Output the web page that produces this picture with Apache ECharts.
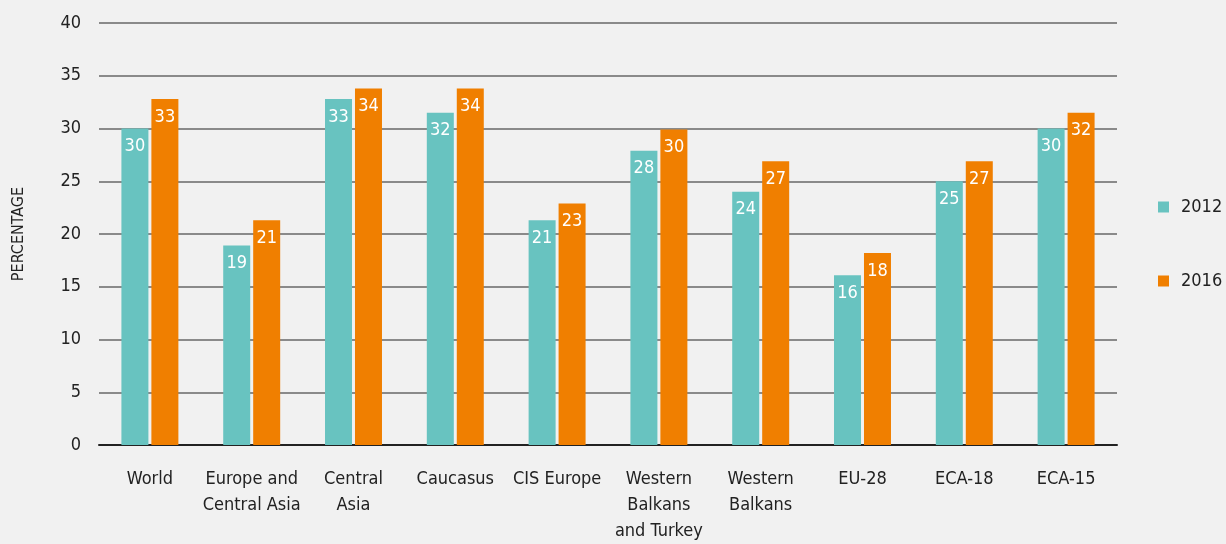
<!DOCTYPE html>
<html><head><meta charset="utf-8">
<script src="https://cdn.jsdelivr.net/npm/echarts@6/dist/echarts.min.js"></script>
<style>html,body{margin:0;padding:0;background:#f1f1f1}#c{width:1226px;height:544px}</style>
</head><body><div id="c"></div>
<script>
const categories = ['World','Europe and\nCentral Asia','Central\nAsia','Caucasus','CIS Europe','Western\nBalkans\nand Turkey','Western\nBalkans','EU-28','ECA-18','ECA-15'];
const values2012 = [30, 18.9, 32.8, 31.5, 21.3, 27.9, 24.0, 16.1, 25.0, 30.0];
const values2016 = [32.8, 21.3, 33.8, 33.8, 22.9, 29.9, 26.9, 18.2, 26.9, 31.5];
const yTicks = [0,5,10,15,20,25,30,35,40];
const FONT = '"DejaVu Sans Condensed","Liberation Sans Narrow",sans-serif';
const chart = echarts.init(document.getElementById('c'), null, {renderer:'canvas'});
const lbl = {show:true, position:'insideTop', distance:9, color:'#fff', fontFamily:FONT, fontSize:18,
  formatter: p => Math.round(p.value)};
chart.setOption({
  backgroundColor:'#f1f1f1',
  animation:false,
  grid:{left:99,right:109,top:23,bottom:97},
  legend:{orient:'vertical', left:1153, top:193, itemGap:56, itemWidth:11, itemHeight:11, icon:'rect',
    textStyle:{fontFamily:FONT, fontSize:18, color:'#222', padding:[0,0,0,7]},
    data:['2012','2016']},
  xAxis:{type:'category', data:categories,
    axisLine:{lineStyle:{color:'#222', width:2}}, axisTick:{show:false},
    axisLabel:{interval:0, margin:21, fontFamily:FONT, fontSize:18, color:'#222', lineHeight:26}},
  yAxis:{type:'value', min:yTicks[0], max:yTicks[yTicks.length-1], interval:5,
    name:'PERCENTAGE', nameLocation:'middle', nameGap:72, nameRotate:90,
    nameTextStyle:{fontFamily:FONT, fontSize:16, color:'#222'},
    axisLine:{show:false}, axisTick:{show:false},
    axisLabel:{margin:18, fontFamily:FONT, fontSize:18, color:'#222'},
    splitLine:{lineStyle:{color:'#8a8a8a', width:2}}},
  series:[
    {name:'2012', type:'bar', data:values2012, barWidth:27, barGap:'11%', itemStyle:{color:'#68c3c0'}, label:lbl},
    {name:'2016', type:'bar', data:values2016, barWidth:27, itemStyle:{color:'#f07f00'}, label:lbl}
  ]
});
</script></body></html>
